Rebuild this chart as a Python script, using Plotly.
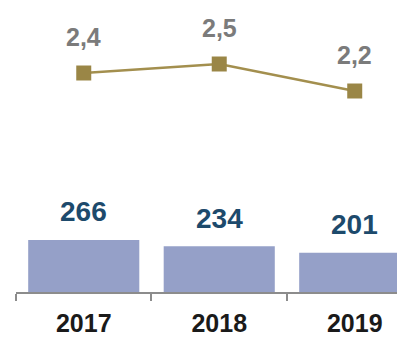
import plotly.graph_objects as go

years = ["2017", "2018", "2019"]
bar_values = [266, 234, 201]
line_values = [2.4, 2.5, 2.2]
line_labels = ["2,4", "2,5", "2,2"]

FONT = "Liberation Sans, Arial, sans-serif"

fig = go.Figure()
fig.add_trace(go.Bar(
    x=years, y=bar_values,
    marker=dict(color="#95a0c8", line=dict(width=0)),
    yaxis="y", hoverinfo="skip",
))
fig.add_trace(go.Scatter(
    x=years, y=line_values, mode="lines+markers",
    line=dict(color="#a38f4e", width=2.5),
    marker=dict(symbol="square", size=15, color="#9a8646"),
    yaxis="y2", hoverinfo="skip",
))

annotations = []
for i, v in enumerate(bar_values):
    annotations.append(dict(
        x=i, y=v, xref="x", yref="y", text="<b>%d</b>" % v, showarrow=False,
        yanchor="middle", yshift=28,
        font=dict(family=FONT, size=28, color="#1d4a6c"),
    ))
for i, (v, lab) in enumerate(zip(line_values, line_labels)):
    annotations.append(dict(
        x=i, y=v, xref="x", yref="y2", text="<b>%s</b>" % lab, showarrow=False,
        yanchor="middle", yshift=36,
        font=dict(family=FONT, size=25, color="#7b7b7b"),
    ))

fig.update_layout(
    template="none",
    width=405, height=337,
    margin=dict(l=8, r=8, t=0, b=53, autoexpand=False),
    paper_bgcolor="white", plot_bgcolor="white",
    showlegend=False, bargap=0.18,
    annotations=annotations,
    xaxis=dict(
        type="category", range=[-0.5, 2.371], automargin=False,
        showline=True, linecolor="#8c8c8c", linewidth=1.5,
        ticks="outside", tickson="boundaries", ticklen=7, tickcolor="#8c8c8c", tickwidth=1.5,
        ticklabelstandoff=8,
        showgrid=False, zeroline=False,
        tickfont=dict(family=FONT, size=25, color="#1a1a1a", weight="bold"),
    ),
    yaxis=dict(range=[0, 1450], visible=False, showgrid=False, zeroline=False, automargin=False),
    yaxis2=dict(range=[-0.0333, 3.1222], overlaying="y", visible=False,
                showgrid=False, zeroline=False, automargin=False),
)

fig.write_html("out.html")
